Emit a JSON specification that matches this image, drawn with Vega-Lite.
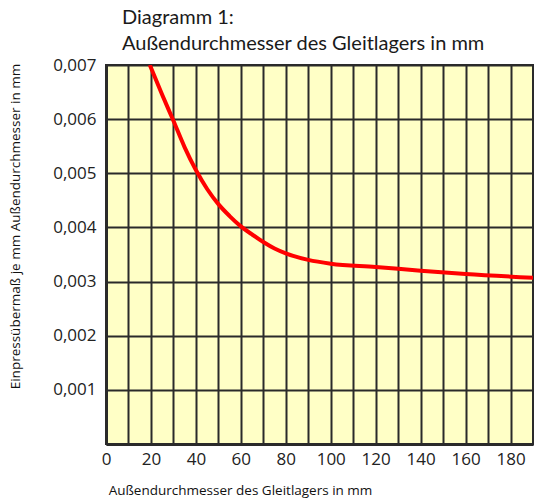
{
  "$schema": "https://vega.github.io/schema/vega-lite/v6.json",
  "width": 427,
  "height": 379,
  "autosize": {"type": "none"},
  "padding": {"left": 106, "top": 65, "right": 1, "bottom": 55},
  "background": "white",
  "title": {
    "text": ["Diagramm 1:", "Außendurchmesser des Gleitlagers in mm"],
    "anchor": "start",
    "frame": "group",
    "dx": 16,
    "offset": 2,
    "font": "Lato",
    "fontSize": 20,
    "fontWeight": "normal",
    "color": "#1a1a1a",
    "lineHeight": 26
  },
  "config": {
    "view": {"fill": "#FFFFC6", "stroke": "#2a2a2a", "strokeWidth": 2},
    "axis": {"labelFont": "Open Sans", "titleFont": "Open Sans", "labelColor": "#222222", "titleColor": "#111111"}
  },
  "data": {
    "values": [
      {"d": 19.5, "e": 0.0070},
      {"d": 25, "e": 0.00645},
      {"d": 30, "e": 0.00597},
      {"d": 35, "e": 0.00548},
      {"d": 40, "e": 0.00506},
      {"d": 45, "e": 0.00471},
      {"d": 50, "e": 0.00443},
      {"d": 55, "e": 0.00421},
      {"d": 60, "e": 0.00402},
      {"d": 65, "e": 0.00387},
      {"d": 70, "e": 0.00373},
      {"d": 75, "e": 0.00361},
      {"d": 80, "e": 0.00352},
      {"d": 90, "e": 0.00340},
      {"d": 100, "e": 0.00333},
      {"d": 120, "e": 0.00327},
      {"d": 140, "e": 0.00320},
      {"d": 160, "e": 0.00314},
      {"d": 190, "e": 0.00307}
    ]
  },
  "mark": {"type": "line", "color": "#FF0000", "strokeWidth": 4, "interpolate": "monotone", "clip": true},
  "encoding": {
    "x": {
      "field": "d",
      "type": "quantitative",
      "scale": {"domain": [0, 190], "nice": false, "zero": false},
      "axis": {
        "title": "Außendurchmesser des Gleitlagers in mm",
        "titleFontSize": 13.5,
        "titleFontWeight": "normal",
        "titleX": 134,
        "titleY": 46,
        "titleBaseline": "middle",
        "titleAlign": "center",
        "values": [0, 10, 20, 30, 40, 50, 60, 70, 80, 90, 100, 110, 120, 130, 140, 150, 160, 170, 180, 190],
        "labelExpr": "datum.value % 20 == 0 && datum.value < 190 ? datum.label : ''",
        "labelFontSize": 17,
        "labelPadding": 7,
        "ticks": false,
        "domainColor": "#2a2a2a",
        "domainWidth": 3,
        "grid": true,
        "gridColor": "#2a2a2a",
        "gridWidth": 2,
        "gridOpacity": 1,
        "labelFlush": false
      }
    },
    "y": {
      "field": "e",
      "type": "quantitative",
      "scale": {"domain": [0, 0.007], "nice": false},
      "axis": {
        "title": "Einpressübermaß je mm Außendurchmesser in mm",
        "titleFontSize": 13.5,
        "titleFontWeight": "normal",
        "titleAngle": -90,
        "titleX": -91,
        "titleY": 161,
        "titleAlign": "center",
        "titleBaseline": "middle",
        "values": [0, 0.001, 0.002, 0.003, 0.004, 0.005, 0.006, 0.007],
        "labelExpr": "datum.value == 0 ? '' : replace(format(datum.value, '.3f'), '.', ',')",
        "labelFontSize": 17,
        "labelPadding": 10,
        "ticks": false,
        "domainColor": "#2a2a2a",
        "domainWidth": 3,
        "grid": true,
        "gridColor": "#2a2a2a",
        "gridWidth": 2,
        "gridOpacity": 1
      }
    }
  }
}
